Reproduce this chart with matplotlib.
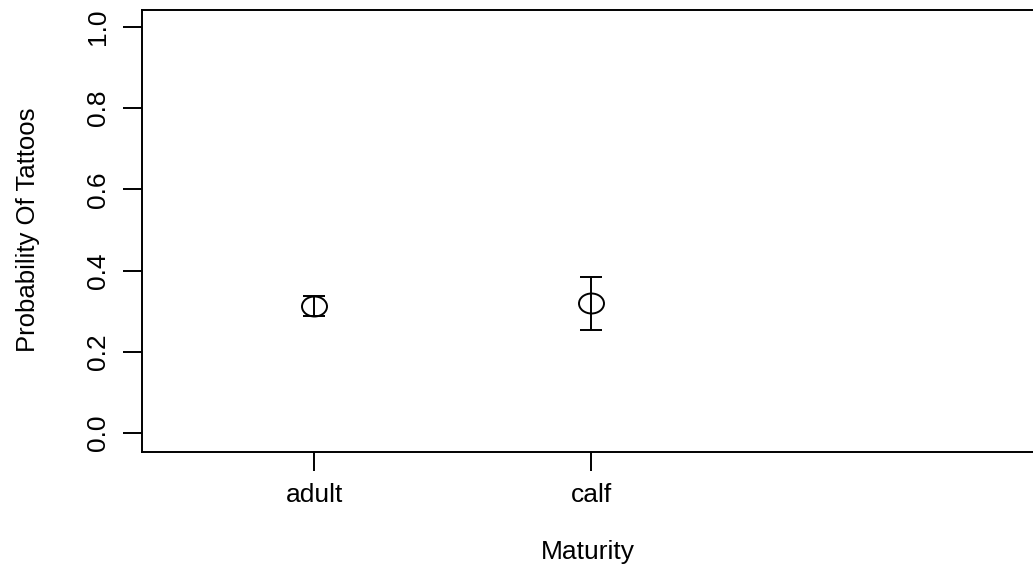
#!/usr/bin/python3

# numpy and plotting
import matplotlib
matplotlib.use('Agg')
import matplotlib.pyplot as plt
import numpy as np
from matplotlib.path import Path

########################################################################################
# data
groups = ['adult', 'calf']
prob_mean = [0.312, 0.321]
prob_low = [0.289, 0.254]
prob_high = [0.337, 0.385]
yticks = [0.0, 0.2, 0.4, 0.6, 0.8, 1.0]

########################################################################################
plt.rcParams['font.family'] = ['Liberation Sans', 'DejaVu Sans']

fig = plt.figure(figsize=(10.33, 5.69), dpi=100)
ax = fig.add_axes([0.1375, 0.2056, 0.8635, 0.7768])

xs = np.arange(1, len(groups) + 1)
mean = np.array(prob_mean)
yerr = [mean - np.array(prob_low), np.array(prob_high) - mean]

# the picture is a bit stretched sideways, so the circles are wide ellipses
circ = Path.unit_circle()
ell = Path(circ.vertices * np.array([1.25, 1.0]), circ.codes)

ax.errorbar(xs, mean, yerr=yerr, fmt='none', ecolor='black', elinewidth=1.4,
            capsize=8, capthick=1.4)
ax.plot(xs, mean, linestyle='none', marker=ell, markersize=18,
        markerfacecolor='none', markeredgecolor='black', markeredgewidth=1.4)

ax.set_xlim(0.379, 3.599)
ax.set_ylim(-0.047, 1.042)

ax.set_xticks(xs)
ax.set_xticklabels(groups)
ax.set_yticks(yticks)
ax.set_yticklabels(['{:.1f}'.format(t) for t in yticks], rotation=90, va='center')

ax.tick_params(axis='both', direction='out', length=14, width=1.4, colors='black',
               labelsize=19)
ax.tick_params(axis='x', pad=8)
ax.tick_params(axis='y', pad=9)

for s in ['left', 'bottom', 'top']:
    ax.spines[s].set_linewidth(1.4)
ax.spines['right'].set_visible(False)

fig.text(588 / 1033., 1 - 552 / 569., 'Maturity', ha='center', va='center', fontsize=19)
fig.text(28 / 1033., 1 - 230 / 569., 'Probability Of Tattoos', ha='center', va='center',
         rotation=90, fontsize=18.5)

plt.savefig('out.png', dpi=100)
